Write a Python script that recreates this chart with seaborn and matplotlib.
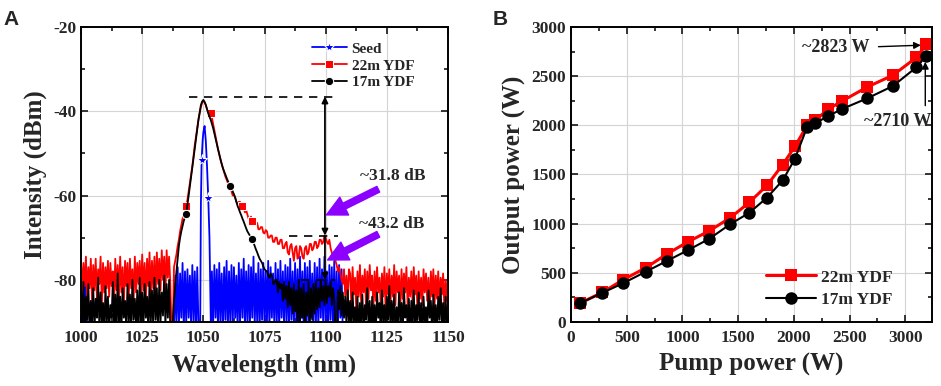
import numpy as np
import seaborn as sns
import matplotlib.pyplot as plt
from matplotlib.ticker import MultipleLocator

# ---- panel A: spectra at 0.5 nm steps ----
wavelength = np.arange(1000, 1150.5, 0.5)

ydf22_dbm = [
    -75.5, -83, -76, -81.5, -74.5, -84, -77, -82, -75, -85,
    -76.5, -82.5, -75, -84.5, -77.5, -81, -74.5, -86, -76, -83,
    -77, -82, -75.5, -84, -76, -81.5, -78, -85.5, -75, -82.5,
    -76.5, -84, -74.5, -83, -77, -86, -75.5, -81.5, -76, -84.5,
    -75, -82, -77.5, -85, -74.5, -83, -76, -81, -75.5, -84,
    -74, -82.5, -76, -85, -75, -81.5, -73.5, -83.5, -75.5, -82,
    -74.5, -84, -73.5, -81, -75, -82.5, -73, -80, -74.5, -83,
    -73, -79.5, -74.5, -81, -92, -92, -77, -75.5, -74, -72,
    -70.5, -68.5, -67, -65.5, -64.5, -63.5, -62.5, -61, -59, -57,
    -55, -53, -50.5, -48, -46, -44, -42, -40.5, -39, -38,
    -37.5, -37.8, -38.5, -39.5, -40, -40.3, -40.5, -41.5, -43, -44.5,
    -46, -47.5, -49, -50.3, -51.5, -52.5, -53.5, -54.5, -55.5, -56.2,
    -57, -57.5, -58, -59, -60, -59.8, -60.5, -61.5, -62, -61.5,
    -61.5, -62.8, -62.5, -63, -64, -63.5, -64.5, -65.5, -65.5, -65,
    -66, -67, -67, -66.5, -66.5, -68, -68, -67.5, -67.5, -68.8,
    -69, -68.2, -68.5, -70, -70, -69.5, -69.5, -71, -71, -70,
    -70, -71.5, -71.5, -70.5, -70.5, -72.5, -72.5, -71.5, -71, -73.5,
    -74, -72, -71.5, -73.5, -75.5, -72.5, -72, -75, -74.5, -72,
    -72.5, -74.5, -75, -72.5, -72, -74, -73.5, -71.5, -71.5, -73,
    -72.5, -71, -71, -72.5, -72, -70.5, -70.5, -71.5, -71, -69.5,
    -70, -71, -71.5, -70.5, -72.5, -73.5, -74.5, -73.5, -75.5, -76.5,
    -78, -77, -78.5, -80, -81, -77.5, -84, -79, -85, -77.5,
    -78.5, -86, -77, -83.5, -79.5, -87, -78, -84, -76.5, -85.5,
    -79, -83, -77.5, -86.5, -78, -84.5, -76.5, -82.5, -79, -87,
    -78, -85, -77, -83, -79.5, -86, -78.5, -84, -77, -87.5,
    -78.5, -83.5, -77.5, -85.5, -79, -84, -76.5, -86, -78, -83,
    -79, -87, -77.5, -84.5, -78.5, -83, -77, -86.5, -79.5, -84,
    -78, -85.5, -77, -83.5, -79, -87, -78, -84.5, -79.5, -86,
    -77.5, -83, -78.5, -85, -79.5, -87.5, -78, -84, -77.5, -86,
    -79, -84.5, -78, -86, -79.5, -83.5, -78.5, -87, -80, -85,
    -79,
]

ydf17_dbm = [
    -83, -91, -80.5, -92, -84, -89.5, -81, -93, -85, -90,
    -82, -92, -84.5, -89, -79.5, -91.5, -83, -90, -85.5, -92.5,
    -81.5, -90, -84, -92, -86, -89, -80.5, -91, -83.5, -93,
    -78.5, -90.5, -84, -92, -82, -89, -85, -91.5, -81, -90,
    -83.5, -92, -80, -89.5, -84.5, -91, -82.5, -93, -79.5, -90,
    -83, -91.5, -81, -89, -84, -92, -80.5, -90.5, -82.5, -91,
    -79.5, -89.5, -82, -92, -80, -90, -83, -88.5, -79, -91,
    -81, -89, -80, -92, -93, -90, -85, -81.5, -78, -75,
    -72, -70, -68.5, -67.2, -66, -65.2, -64.3, -62.2, -60, -57.8,
    -55.5, -53.3, -51, -48.8, -46.5, -44.3, -42, -40.2, -38.5, -37.7,
    -37.3, -37.8, -38.5, -39.5, -40.5, -41.3, -42, -43, -44, -45.2,
    -46.5, -47.8, -49, -50.2, -51.5, -52.5, -53.5, -54.3, -55, -55.8,
    -56.5, -57.1, -57.7, -58.3, -59, -59.7, -60.5, -61.5, -62.5, -63.2,
    -64, -64.7, -65.5, -66.2, -67, -67.8, -68.5, -69, -69.5, -70,
    -70.4, -71.2, -72, -72.8, -73.5, -74.3, -75, -75.5, -76, -76.8,
    -77.5, -77.8, -78, -79, -79.5, -78.5, -79, -81, -81, -80,
    -80, -83, -80.5, -82, -81, -85, -80.5, -84.5, -81.5, -86.5,
    -80.5, -86, -82, -88, -81, -87.5, -82.5, -90, -80, -91,
    -82, -89, -81, -92, -83, -88.5, -80.5, -91, -82, -89.5,
    -81, -88, -80.5, -87, -82, -86.5, -80, -85, -81.5, -86,
    -80, -85.5, -81.5, -84, -80.5, -86, -82, -84.5, -93, -93,
    -82.5, -87, -81.5, -88.5, -83, -89, -84, -91, -82.5, -90,
    -85, -92, -83, -90, -86.5, -91.5, -84, -93, -85.5, -90,
    -83.5, -92.5, -86, -89.5, -82, -91, -85, -93, -84, -90.5,
    -86, -92, -83, -89, -85.5, -93, -82.5, -90, -86, -91.5,
    -84, -89.5, -81.5, -92, -85, -90, -83.5, -93, -86.5, -91,
    -83, -90, -85.5, -92.5, -82, -89, -86, -91, -84.5, -93,
    -85, -90.5, -82.5, -92, -86, -89.5, -83, -91, -85.5, -93,
    -84, -90, -86.5, -92, -82.5, -89, -85, -93, -83.5, -90.5,
    -86, -92, -84, -89.5, -82, -91, -85.5, -93, -84, -90,
    -91,
]

# the seed trace is only visible near the signal and at the far left
seed_wavelength = np.concatenate([
    np.arange(1000, 1003.5, 0.5),
    np.arange(1038, 1048.5, 0.5),
    [1048.7, 1049, 1049.3, 1049.7, 1050, 1050.5, 1051, 1051.5, 1052, 1052.5, 1053.1],
    np.arange(1053.5, 1107.5, 0.5),
    [1107.5],
])
seed_dbm = [
    -76, -95, -77.5, -95, -75.5, -95, -95,
    -92, -79, -90, -77, -91.5, -78.5, -89, -76, -92, -78,
    -90.5, -77.5, -89, -79, -91, -76.5, -90, -78, -92, -77, -91,
    -92, -62, -51.6, -47, -45, -43.5, -47, -53, -60.5, -70, -92,
    -78, -91, -76.5, -89, -77.5, -92, -76, -90, -78.5, -91.5,
    -77, -89.5, -75.5, -92, -78, -90, -76.5, -91, -77, -89,
    -79, -92, -76, -90.5, -77.5, -89, -75, -91.5, -78, -90,
    -76.5, -92, -77, -89, -74.5, -91, -78.5, -90, -76, -92.5,
    -77.5, -89.5, -76, -91, -78, -90, -75.5, -92, -77, -89,
    -78.5, -91, -76, -90.5, -77.5, -92, -75.5, -89, -78, -91,
    -76.5, -90, -77, -92, -75, -89.5, -78, -91, -76, -90,
    -77.5, -92, -74.5, -89, -78, -91.5, -76, -90, -77, -92,
    -75.5, -89, -78.5, -91, -76, -90.5, -77, -92, -75, -89,
    -77.5, -91, -74.5, -90, -78, -92, -76.5, -89.5, -77, -91,
    -75.5, -90, -78, -92, -76.5, -89, -77.5, -93,
    -95,
]

# ---- panel B: power curves ----
pump_w = [80, 280, 470, 670, 860, 1050, 1240, 1430, 1600, 1760,
          1900, 2010, 2120, 2190, 2310, 2430, 2660, 2890, 3100, 3190]
out22_w = [190, 300, 430, 550, 690, 815, 925, 1060, 1215, 1390,
           1600, 1785, 2000, 2050, 2165, 2245, 2390, 2510, 2690, 2823]
out17_w = [190, 295, 395, 510, 620, 730, 845, 995, 1110, 1265,
           1440, 1660, 1985, 2020, 2095, 2165, 2275, 2400, 2590, 2710]

sns.set_style('ticks')
plt.rcParams['font.family'] = ['Liberation Serif', 'DejaVu Serif']
plt.rcParams['font.weight'] = 'bold'
plt.rcParams['axes.labelweight'] = 'bold'
plt.rcParams['axes.unicode_minus'] = False

fig = plt.figure(figsize=(9.41, 3.86), dpi=100)
axA = fig.add_axes([0.0861, 0.166, 0.390, 0.764])
axB = fig.add_axes([0.6068, 0.166, 0.3836, 0.764])

purple = '#8B00FF'

# spectra
sns.lineplot(x=seed_wavelength, y=seed_dbm, ax=axA, color='#0000ff', lw=1.3,
             marker='*', markersize=8, markevery=[30, 36], sort=False,
             estimator=None, label='Seed')
sns.lineplot(x=wavelength, y=ydf22_dbm, ax=axA, color='#ff0000', lw=1.3,
             marker='s', markersize=5.5, markevery=[86, 106, 132, 140], sort=False,
             estimator=None, label='22m YDF')
sns.lineplot(x=wavelength, y=ydf17_dbm, ax=axA, color='black', lw=1.3,
             marker='o', markersize=6, markevery=[86, 122, 140], sort=False,
             estimator=None, label='17m YDF')

axA.set_xlim(1000, 1150)
axA.set_ylim(-90, -20)
axA.xaxis.set_major_locator(MultipleLocator(25))
axA.xaxis.set_minor_locator(MultipleLocator(12.5))
axA.yaxis.set_major_locator(MultipleLocator(20))
axA.yaxis.set_minor_locator(MultipleLocator(10))
axA.set_xlabel('Wavelength (nm)', fontsize=18, fontweight='bold', labelpad=5)
axA.set_ylabel('Intensity (dBm)', fontsize=18, fontweight='bold', labelpad=4)

# dashed reference levels and measurement arrows
axA.plot([1044, 1105], [-36.5, -36.5], ls=(0, (5, 4)), color='black', lw=1.2)
axA.plot([1085, 1105], [-69.5, -69.5], ls=(0, (5, 4)), color='black', lw=1.2)
axA.plot([1090, 1104], [-80, -80], ls=(0, (5, 4)), color='black', lw=1.2)
axA.annotate('', xy=(1099.7, -36.5), xytext=(1099.7, -69.5),
             arrowprops=dict(arrowstyle='<|-|>', color='black', lw=1.3,
                             mutation_scale=9, shrinkA=0, shrinkB=0))
axA.annotate('', xy=(1099.7, -80), xytext=(1099.7, -69.5),
             arrowprops=dict(arrowstyle='-|>', color='black', lw=1.3,
                             mutation_scale=9, shrinkA=0, shrinkB=0))
axA.annotate('', xy=(1100.3, -64.6), xytext=(1121.5, -58.5),
             arrowprops=dict(arrowstyle='simple,head_width=1.1,head_length=1.1,tail_width=0.35',
                             color=purple, mutation_scale=13, shrinkA=0, shrinkB=0))
axA.annotate('', xy=(1100.8, -75.3), xytext=(1121.5, -69.2),
             arrowprops=dict(arrowstyle='simple,head_width=1.1,head_length=1.1,tail_width=0.35',
                             color=purple, mutation_scale=13, shrinkA=0, shrinkB=0))
axA.text(1127.5, -55.3, '~31.8 dB', fontsize=12.5, fontweight='bold',
         ha='center', va='center')
axA.text(1127, -66.8, '~43.2 dB', fontsize=12.5, fontweight='bold',
         ha='center', va='center')

axA.legend(loc='upper left', bbox_to_anchor=(0.6, 0.985), frameon=False,
           handlelength=2.3, handletextpad=0.3, labelspacing=0.2,
           borderpad=0.2, prop={'weight': 'bold', 'size': 11})

# power curves
sns.lineplot(x=pump_w, y=out22_w, ax=axB, color='#ff0000', lw=2.2,
             marker='s', markersize=8, markeredgewidth=0, sort=False,
             estimator=None, label='22m YDF')
sns.lineplot(x=pump_w, y=out17_w, ax=axB, color='black', lw=1.5,
             marker='o', markersize=9, markeredgewidth=0, sort=False,
             estimator=None, label='17m YDF')

axB.set_xlim(0, 3240)
axB.set_ylim(0, 3000)
axB.xaxis.set_major_locator(MultipleLocator(500))
axB.xaxis.set_minor_locator(MultipleLocator(250))
axB.yaxis.set_major_locator(MultipleLocator(500))
axB.yaxis.set_minor_locator(MultipleLocator(250))
axB.set_xlabel('Pump power (W)', fontsize=18, fontweight='bold', labelpad=5)
axB.set_ylabel('Output power (W)', fontsize=18, fontweight='bold', labelpad=4)

axB.text(2380, 2790, '~2823 W', fontsize=13, fontweight='bold',
         ha='center', va='center')
axB.annotate('', xy=(3140, 2815), xytext=(2760, 2800),
             arrowprops=dict(arrowstyle='-|>', color='black', lw=1.0,
                             mutation_scale=10, shrinkA=0, shrinkB=0))
axB.text(2930, 2040, '~2710 W', fontsize=13, fontweight='bold',
         ha='center', va='center')
axB.annotate('', xy=(3180, 2645), xytext=(3180, 2200),
             arrowprops=dict(arrowstyle='-|>', color='black', lw=1.0,
                             mutation_scale=10, shrinkA=0, shrinkB=0))

axB.legend(loc='lower right', bbox_to_anchor=(0.935, -0.005), frameon=False,
           handlelength=2.9, handletextpad=0.3, labelspacing=0.35,
           prop={'weight': 'bold', 'size': 12.5})

for ax in (axA, axB):
    ax.grid(True, which='major', color='#d4d4d4', lw=0.8)
    ax.set_axisbelow(True)
    ax.tick_params(which='both', direction='in', top=True, right=True,
                   labelsize=12.5, width=1.3)
    ax.tick_params(which='major', length=5)
    ax.tick_params(which='minor', length=3)
    ax.tick_params(axis='x', pad=6)
    for lab in ax.get_xticklabels() + ax.get_yticklabels():
        lab.set_fontweight('bold')
    for sp in ax.spines.values():
        sp.set_linewidth(1.4)
        sp.set_color('black')

fig.text(0.004, 0.975, 'A', fontsize=15, fontweight='bold',
         family=['Liberation Sans', 'DejaVu Sans'], va='top')
fig.text(0.523, 0.975, 'B', fontsize=15, fontweight='bold',
         family=['Liberation Sans', 'DejaVu Sans'], va='top')

fig.savefig('out.png', dpi=100)
